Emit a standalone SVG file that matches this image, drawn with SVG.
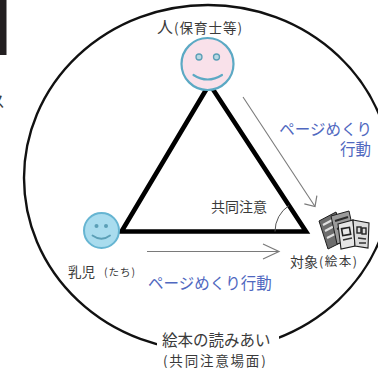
<svg xmlns="http://www.w3.org/2000/svg" width="378" height="368" viewBox="0 0 378 368">
  <style>
    text { font-family: "Noto Sans CJK JP", "Noto Sans", sans-serif; fill: #3a3a3a; }
    .act { fill: #5068c0; font-size: 15.5px; }
    .face-pink { fill: #f9e1ea; stroke: #5ca9c4; stroke-width: 2.2; }
    .face-blue { fill: #a9dcee; stroke: #66b5d2; stroke-width: 2; }
    .feature { fill: none; stroke: #5ca9c4; stroke-width: 2.2; stroke-linecap: round; }
    .eye { fill: #b9d8e3; stroke: #5b9fb6; stroke-width: 1.3; }
    .arrow { fill: none; stroke: #7a7a7a; stroke-width: 1.1; }
  </style>
  <defs>
    <marker id="chev-long" viewBox="-18 -9 20 18" markerWidth="20" markerHeight="18" refX="0" refY="0" orient="auto" markerUnits="userSpaceOnUse">
      <path d="M-16,-7.5 L0,0 L-16,7.5" fill="none" stroke="#7a7a7a" stroke-width="1.2"/>
    </marker>
    <marker id="chev-short" viewBox="-12 -9 14 18" markerWidth="14" markerHeight="18" refX="0" refY="0" orient="auto" markerUnits="userSpaceOnUse">
      <path d="M-8,-7.5 L0,0 L-8,7.5" fill="none" stroke="#7a7a7a" stroke-width="1.2"/>
    </marker>
  </defs>

  <!-- page edge fragments -->
  <rect x="0" y="0" width="6.5" height="55" fill="#231f20"/>
  <text x="-11" y="107" font-size="16">ス</text>

  <!-- scene boundary: reading picture books together -->
  <ellipse cx="208" cy="178" rx="184" ry="173" fill="none" stroke="#111" stroke-width="2.4"/>

  <!-- triad -->
  <polygon points="209.5,84 121.5,231.5 306,231.5" fill="none" stroke="#000" stroke-width="4.6" stroke-linejoin="miter"/>

  <g id="connectors">
    <path class="arrow" d="M243,97 L315,206.5" marker-end="url(#chev-short)"/>
    <path class="arrow" d="M147,251.5 L279,251.5" marker-end="url(#chev-long)"/>
    <path d="M275,231.5 A31 31 0 0 1 289,205.5" fill="none" stroke="#555" stroke-width="1"/>
  </g>

  <g id="joint-attention-label">
    <text x="211" y="212" font-size="14">共同注意</text>
  </g>

  <g id="action-upper">
    <text class="act" x="372" y="135" text-anchor="end">ページめくり</text>
    <text class="act" x="371" y="155" text-anchor="end">行動</text>
  </g>

  <g id="action-lower">
    <text class="act" x="148" y="289">ページめくり行動</text>
  </g>

  <g id="caregiver">
    <text x="157" y="33"><tspan font-size="16">人</tspan><tspan font-size="13.5" letter-spacing="1" dx="1">(保育士等)</tspan></text>
    <circle class="face-pink" cx="207.5" cy="64" r="26"/>
    <circle class="eye" cx="199" cy="57" r="3"/>
    <circle class="eye" cx="216.5" cy="57" r="3"/>
    <path class="feature" d="M193.5,75 Q207.5,84 222,75"/>
  </g>

  <g id="infant">
    <circle class="face-blue" cx="101.5" cy="230.5" r="17.5"/>
    <circle cx="96.5" cy="226" r="2" fill="#5b9fb6"/>
    <circle cx="106" cy="226" r="2" fill="#5b9fb6"/>
    <path d="M92.5,235.5 Q101.5,242 110,235.5" fill="none" stroke="#5b9fb6" stroke-width="1.8" stroke-linecap="round"/>
    <text x="68" y="277" font-size="13.5">乳児</text>
    <text x="104" y="276" font-size="10.5" letter-spacing="1">(たち)</text>
  </g>

  <g id="object">
    <!-- picture books -->
    <polygon points="319,221 336,212 346,240 328,249" fill="#6d6d6d" stroke="#1e1e1e" stroke-width="1"/>
    <path d="M323,225 L336,218 M325,231 L338,224 M327,238 L341,231" stroke="#e0e0e0" stroke-width="2"/>
    <polygon points="331,216 349,211 355,238 337,244" fill="#9a9a9a" stroke="#1e1e1e" stroke-width="1"/>
    <path d="M335,221 L348,217 M337,229 L350,225" stroke="#2a2a2a" stroke-width="2.2"/>
    <polygon points="338,224 353,220 355,246 341,249" fill="#e6e6e6" stroke="#1e1e1e" stroke-width="1.1"/>
    <polygon points="353,220 369,223 368,248 355,246" fill="#dcdcdc" stroke="#1e1e1e" stroke-width="1.1"/>
    <rect x="342" y="228" width="8" height="7" fill="none" stroke="#222" stroke-width="1.6" transform="rotate(-10 346 231)"/>
    <rect x="357" y="227" width="4" height="6" fill="none" stroke="#222" stroke-width="1.4"/>
    <rect x="362" y="228" width="4" height="6" fill="none" stroke="#222" stroke-width="1.4"/>
    <path d="M343,240 L352,238 M358,238 L366,239 M359,243 L366,243" stroke="#333" stroke-width="1.6"/>
    <text x="290" y="267" font-size="14">対象</text>
    <text x="319" y="266" font-size="12.5" letter-spacing="1.5">(絵本)</text>
  </g>

  <g id="scene-label">
    <rect x="157" y="328" width="122" height="40" fill="#fff"/>
    <text x="162" y="346" font-size="15.5">絵本の読みあい</text>
    <text x="163" y="365.5" font-size="13.5" letter-spacing="1.8">(共同注意場面)</text>
  </g>
</svg>
